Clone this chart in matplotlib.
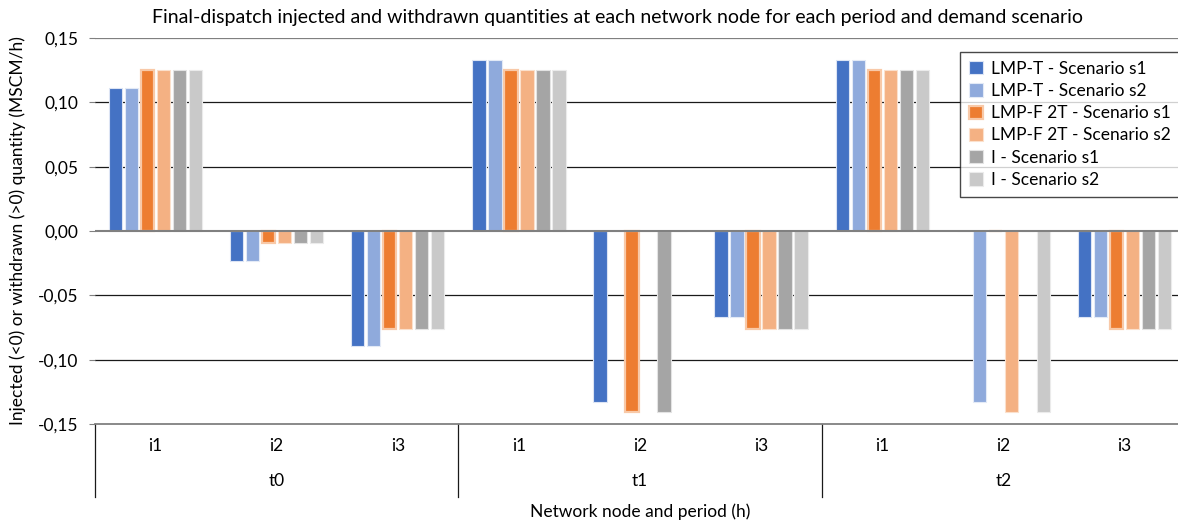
import numpy as np
import matplotlib.pyplot as plt
from matplotlib.ticker import FuncFormatter

plt.rcParams['font.family'] = ['Lato', 'DejaVu Sans']

periods = ['t0', 't1', 't2']
nodes = ['i1', 'i2', 'i3']
series = ['LMP-T - Scenario s1', 'LMP-T - Scenario s2',
          'LMP-F 2T - Scenario s1', 'LMP-F 2T - Scenario s2',
          'I - Scenario s1', 'I - Scenario s2']

# values per (period, node) group, one list per series
lmp_t_s1 = [0.111, -0.023, -0.089, 0.133, -0.133, -0.067, 0.133, 0.0, -0.067]
lmp_t_s2 = [0.111, -0.023, -0.089, 0.133, 0.0, -0.067, 0.133, -0.133, -0.067]
lmp_f_s1 = [0.125, -0.009, -0.076, 0.125, -0.141, -0.076, 0.125, 0.0, -0.076]
lmp_f_s2 = [0.125, -0.009, -0.076, 0.125, 0.0, -0.076, 0.125, -0.141, -0.076]
i_s1 = [0.125, -0.009, -0.076, 0.125, -0.141, -0.076, 0.125, 0.0, -0.076]
i_s2 = [0.125, -0.009, -0.076, 0.125, 0.0, -0.076, 0.125, -0.141, -0.076]

values = [lmp_t_s1, lmp_t_s2, lmp_f_s1, lmp_f_s2, i_s1, i_s2]
colors = ['#4472C4', '#8FAADC', '#ED7D31', '#F4B183', '#A5A5A5', '#C9C9C9']
edges = ['#DCE4F4', '#E3EAF6', '#F8C9A8', '#FBE0CC', '#E3E3E3', '#EBEBEB']

fig = plt.figure(figsize=(11.78, 5.25), dpi=100)
ax = fig.add_axes([95 / 1178, 1 - 424 / 525, 1090 / 1178, 386 / 525])

n_groups = len(periods) * len(nodes)
x = np.arange(n_groups)
step = 0.132
width = 0.11
for k, (vals, name) in enumerate(zip(values, series)):
    off = (k - 2.5) * step
    lw = 1.6 if k == 2 else 0.8
    ax.bar(x + off, vals, width, color=colors[k], edgecolor=edges[k],
           linewidth=lw, label=name, zorder=3)

ax.set_xlim(-0.5, n_groups - 0.5)
ax.set_ylim(-0.15, 0.15)
ax.set_yticks([-0.15, -0.10, -0.05, 0.0, 0.05, 0.10, 0.15])
ax.yaxis.set_major_formatter(FuncFormatter(lambda v, p: f'{v:.2f}'.replace('.', ',')))
ax.tick_params(axis='y', labelsize=12.5, length=4, color='#808080', pad=8)
ax.set_xticks([])
for s in ['top', 'right', 'left']:
    ax.spines[s].set_visible(False)
ax.spines['bottom'].set_color('#808080')
ax.spines['bottom'].set_linewidth(1.3)

for v in [0.10, 0.05, -0.05, -0.10, 0.15]:
    ax.axhline(v, color='#1a1a1a' if v != 0.15 else '#808080', lw=0.9, zorder=1)
ax.axhline(0, color='#808080', lw=1.5, zorder=4)

# multi-level category axis
trans = ax.get_xaxis_transform()
for i in range(n_groups):
    ax.text(i, -0.058, nodes[i % 3], transform=trans, ha='center', va='center', fontsize=12.5)
for j, p in enumerate(periods):
    ax.text(3 * j + 1, -0.148, p, transform=trans, ha='center', va='center', fontsize=12.5)
for b in [-0.5, 2.5, 5.5, 8.5]:
    ax.plot([b, b], [0, -0.19], transform=trans, color='#1a1a1a', lw=0.9, clip_on=False)

fig.text(640 / 1178, 1 - 512 / 525, 'Network node and period (h)', ha='center', va='center', fontsize=12.5)
fig.text(18 / 1178, 1 - 231 / 525, 'Injected (<0) or withdrawn (>0) quantity (MSCM/h)',
         rotation=90, ha='center', va='center', fontsize=12.5)
fig.text(617 / 1178, 1 - 18 / 525,
         'Final-dispatch injected and withdrawn quantities at each network node for each period and demand scenario',
         ha='center', va='center', fontsize=14)

leg = ax.legend(loc='upper left', bbox_to_anchor=((960 - 95) / 1090, 1 - 14 / 386),
                borderaxespad=0, fontsize=12.5, frameon=True, fancybox=False,
                edgecolor='#1a1a1a', handlelength=0.8, handleheight=0.8,
                handletextpad=0.5, labelspacing=0.36, borderpad=0.5)
leg.get_frame().set_linewidth(1.0)

fig.savefig('out.png', dpi=100)
